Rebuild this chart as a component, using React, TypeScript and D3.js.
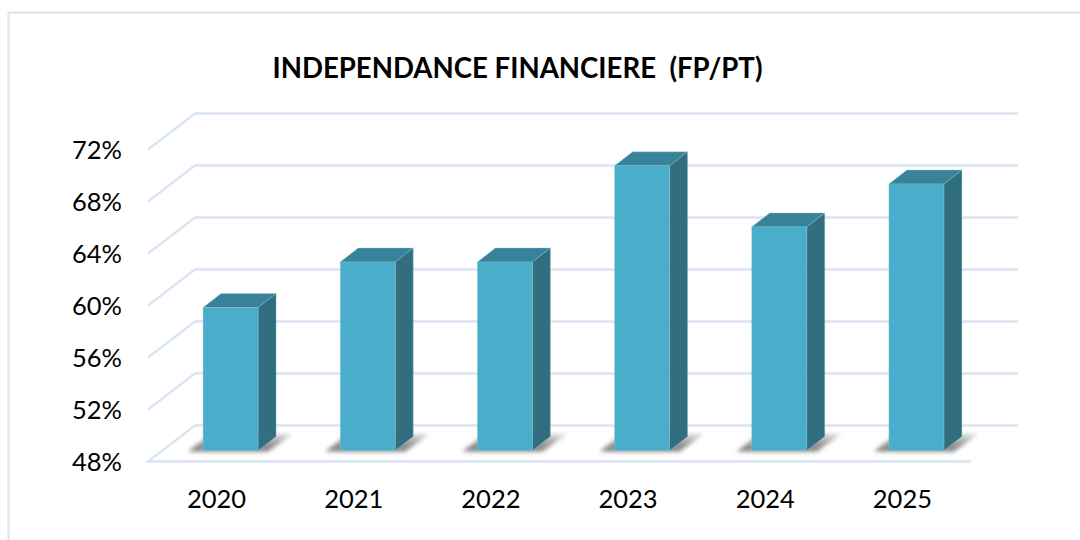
import React from "react";
import * as d3 from "d3";

const years = ["2020", "2021", "2022", "2023", "2024", "2025"];
const values = [59, 62.5, 62.5, 69.9, 65.2, 68.5];
const ticks = [48, 52, 56, 60, 64, 68, 72];
const titleText = "INDEPENDANCE FINANCIERE  (FP/PT)";

const gridColor = "#d9e4f4";
const faceColor = "#4aadc9";
const topColor = "#38839a";
const sideColor = "#316f80";
const font = "Lato, 'Open Sans', sans-serif";

const W = 1080, H = 540;
const depthX = 47, depthY = 36;      // full floor depth
const barDX = 18, barDY = 14;        // bar depth
const offDX = 14, offDY = 11;        // bar offset from the front edge

const x = d3.scaleBand<string>().domain(years).range([148, 971]);
const y = d3.scaleLinear().domain([48, 72]).range([461.5, 149.5]);
const barW = 55;

export default function App() {
  return (
    <svg width={W} height={H} viewBox={`0 0 ${W} ${H}`}
      style={{ position: "absolute", left: 0, top: 0, background: "#fff" }} fontFamily={font}>
      <defs>
        <filter id="blur" x="-30%" y="-60%" width="160%" height="220%">
          <feGaussianBlur stdDeviation="2.2" />
        </filter>
        <linearGradient id="shade" x1="0" y1="1" x2="0" y2="0">
          <stop offset="0" stopColor="#7a7a7a" />
          <stop offset="0.5" stopColor="#a0a0a0" />
          <stop offset="1" stopColor="#e6e6e6" />
        </linearGradient>
      </defs>

      <path d={`M1080,12.5H8.5V540`} fill="none" stroke={gridColor} strokeWidth={2} />

      <text x={517.5} y={77.5} textAnchor="middle" fontSize={27.6} fontWeight={700} fill="#000"
        style={{ whiteSpace: "pre" }}>{titleText}</text>

      {ticks.map((t) => {
        const yy = y(t);
        const [x0, x1] = x.range();
        return (
          <g key={t}>
            <path
              d={t === 48
                ? `M${x1},${yy}H${x0}L${x0 + depthX},${yy - depthY}H${x1 + depthX}`
                : `M${x0},${yy}L${x0 + depthX},${yy - depthY}H${x1 + depthX}`}
              fill="none" stroke={gridColor} strokeWidth={2.4} />
            <text x={122} y={yy + 9.5} textAnchor="end" fontSize={25.5} fill="#000">{t}%</text>
          </g>
        );
      })}

      {years.map((yr, i) => {
        const left = x(yr)! + (x.bandwidth() - barW) / 2 + offDX;
        const base = y(48) - offDY;
        const top = y(48) - offDY - (y(48) - y(values[i]));
        const right = left + barW;
        return (
          <g key={yr}>
            <path
              d={`M${left - 15},${base + 1}L${left + 8},${base - 17}H${right + 35}L${right + 10},${base + 1}Z`}
              fill="url(#shade)" filter="url(#blur)" />
            <g stroke="#8cc6d8" strokeWidth={0.6} strokeOpacity={0.6}>
              <path d={`M${left},${top}L${left + barDX},${top - barDY}H${right + barDX}L${right},${top}Z`}
                fill={topColor} />
              <path d={`M${right},${top}L${right + barDX},${top - barDY}V${base - barDY}L${right},${base}Z`}
                fill={sideColor} />
              <rect x={left} y={top} width={barW} height={base - top} fill={faceColor} />
            </g>
            <text x={x(yr)! + x.bandwidth() / 2} y={507.5} textAnchor="middle" fontSize={25.5} fill="#000">{yr}</text>
          </g>
        );
      })}
    </svg>
  );
}
